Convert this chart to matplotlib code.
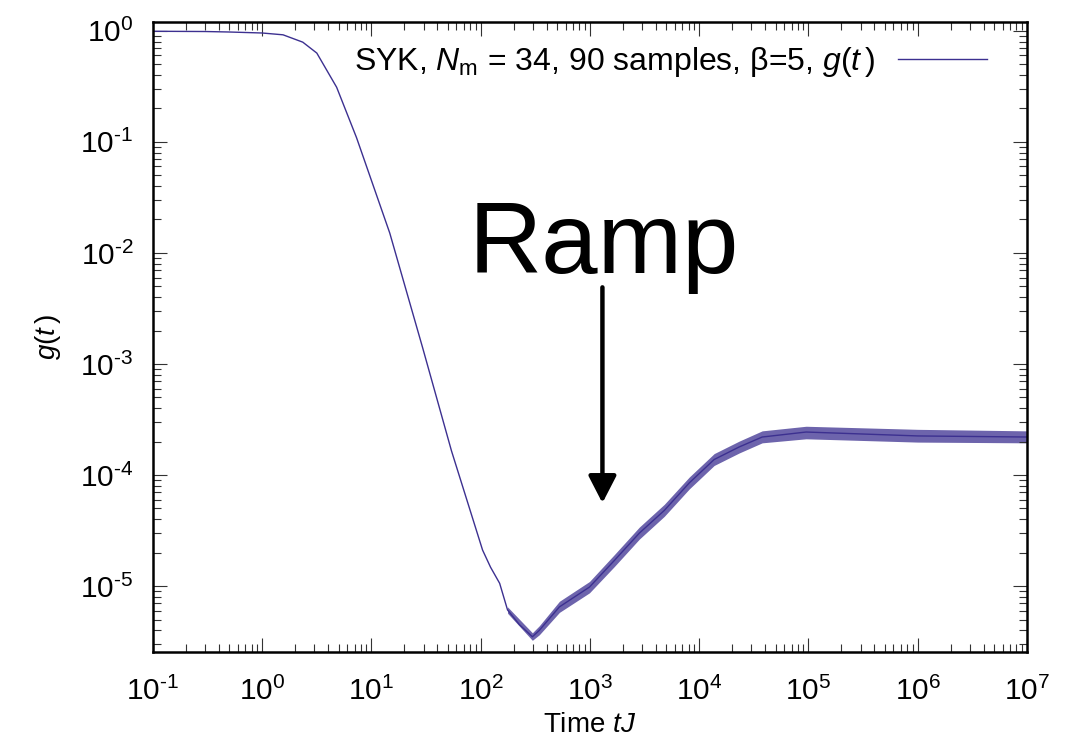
#!/usr/bin/env python3
"""
Spectral form factor g(t) of the SYK model on log-log axes.
"""

import matplotlib
matplotlib.use('Agg')
import matplotlib.pyplot as plt
import numpy as np
from matplotlib import ticker

# values
time_tj = [0.1, 0.3, 0.5, 1.0, 1.55, 2.35, 3.16, 4.8, 7.3, 14.7, 29.4,
           54.0, 104.0, 123.0, 149.0, 176.0, 226.0, 297.0, 344.0, 525.0,
           989.0, 1670.0, 2830.0, 4790.0, 8110.0, 13700.0, 23200.0,
           37700.0, 95100.0, 1.0e6, 1.0e7]
g_t = [0.99, 0.985, 0.975, 0.955, 0.92, 0.79, 0.63, 0.31, 0.109, 0.0151,
       1.4e-3, 1.65e-4, 2.11e-5, 1.48e-5, 1.06e-5, 6.1e-6, 4.5e-6, 3.5e-6,
       4.0e-6, 6.5e-6, 9.8e-6, 1.7e-5, 3.0e-5, 4.8e-5, 8.5e-5, 1.38e-4,
       1.79e-4, 2.2e-4, 2.44e-4, 2.25e-4, 2.2e-4]

# spread of the sample noise (lower / upper edge of the band), t >= 176
noise_t = [176.0, 297.0, 344.0, 525.0, 989.0, 1670.0, 2830.0, 4790.0,
           8110.0, 13700.0, 23200.0, 37700.0, 95100.0, 1.0e6, 1.0e7]
noise_lo = [5.7e-6, 3.25e-6, 3.65e-6, 5.8e-6, 8.7e-6, 1.5e-5, 2.65e-5,
            4.25e-5, 7.5e-5, 1.22e-4, 1.58e-4, 1.95e-4, 2.12e-4, 1.98e-4,
            1.95e-4]
noise_hi = [6.5e-6, 3.8e-6, 4.4e-6, 7.3e-6, 1.1e-5, 1.92e-5, 3.4e-5,
            5.45e-5, 9.6e-5, 1.56e-4, 2.02e-4, 2.5e-4, 2.75e-4, 2.58e-4,
            2.5e-4]

legend_label = ('SYK, $\\mathit{N}_{\\mathrm{m}}$ = 34, 90 samples, '
                '\u03b2=5, $\\mathit{g}(\\mathit{t}\\,)$')
ramp_text = 'Ramp'
ramp_tip = (1300.0, 5.6e-5)
ramp_tail = (1300.0, 4.9e-3)
ramp_label_pos = (1350.0, 6.6e-3)

line_color = '#3c3090'

plt.rcParams['font.family'] = ['Liberation Sans', 'DejaVu Sans']
plt.rcParams['mathtext.fontset'] = 'custom'
plt.rcParams['mathtext.rm'] = 'Liberation Sans'
plt.rcParams['mathtext.it'] = 'Liberation Sans:italic'
plt.rcParams['mathtext.default'] = 'regular'
plt.rcParams['axes.unicode_minus'] = False


def pow10_label(val, pos):
    # gnuplot style: short hyphen in the exponent
    exp = int(round(np.log10(val)))
    return '$10^{\\text{%d}}$' % exp


fig = plt.figure(figsize=(10.72, 7.48), dpi=100)
ax = fig.add_axes([0.1427, 0.1283, 0.8153, 0.8423])

ax.fill_between(noise_t, noise_lo, noise_hi, color=line_color, alpha=0.75,
                linewidth=0)
ax.plot(time_tj, g_t, color=line_color, linewidth=1.0, label=legend_label)

ax.set_xscale('log')
ax.set_yscale('log')
ax.set_xlim(0.1, 1e7)
ax.set_ylim(2.55e-6, 1.2)

ax.set_xlabel('Time $\\mathit{tJ}$', fontsize=20, labelpad=4)
ax.set_ylabel('$\\mathit{g}(\\mathit{t}\\,)$', fontsize=20, labelpad=12)

for side in ['top', 'bottom', 'left', 'right']:
    ax.spines[side].set_linewidth(1.8)

ax.tick_params(which='both', direction='in', top=True, right=True,
               color='#333333', width=0.8)
ax.tick_params(which='major', length=10, labelsize=21.5)
ax.tick_params(axis='x', which='major', pad=18)
ax.tick_params(axis='y', which='major', pad=14)
ax.tick_params(which='minor', length=6)
ax.xaxis.set_major_locator(ticker.LogLocator(base=10, numticks=20))
ax.xaxis.set_minor_locator(ticker.LogLocator(base=10, subs=range(2, 10), numticks=20))
ax.yaxis.set_major_locator(ticker.LogLocator(base=10, numticks=20))
ax.yaxis.set_minor_locator(ticker.LogLocator(base=10, subs=range(2, 10), numticks=20))
ax.xaxis.set_major_formatter(ticker.FuncFormatter(pow10_label))
ax.yaxis.set_major_formatter(ticker.FuncFormatter(pow10_label))
ax.xaxis.set_minor_formatter(ticker.NullFormatter())
ax.yaxis.set_minor_formatter(ticker.NullFormatter())

ax.legend(loc='upper right', bbox_to_anchor=(0.969, 0.984), borderaxespad=0,
          frameon=False, markerfirst=False, fontsize=23,
          handlelength=2.8, handletextpad=0.7)

# Ramp annotation
ax.annotate('', xy=ramp_tip, xytext=ramp_tail,
            arrowprops=dict(arrowstyle='-|>,head_length=1.65,head_width=0.85',
                            color='black', linewidth=3.2, shrinkA=0, shrinkB=0))
ax.text(ramp_label_pos[0], ramp_label_pos[1], ramp_text, fontsize=73,
        family=['Liberation Sans', 'DejaVu Sans'], ha='center', va='baseline')

plt.savefig('out.png', dpi=100)
plt.close()
